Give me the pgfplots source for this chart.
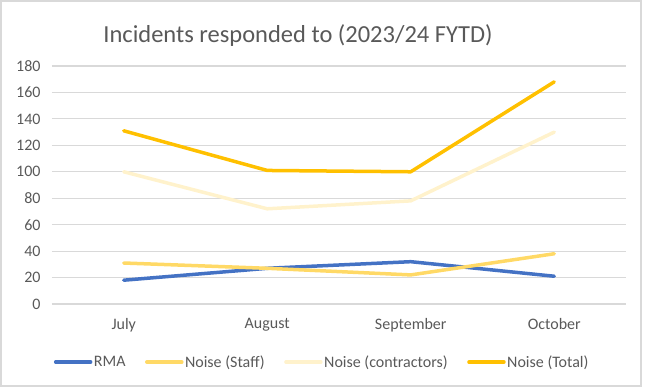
\documentclass[border=0pt]{standalone}
\usepackage{pgfplots}
\pgfplotsset{compat=1.18}
\usepackage{fontspec}
\setmainfont{Carlito}
\definecolor{rma}{HTML}{4472C4}
\definecolor{staff}{HTML}{FFD966}
\definecolor{contr}{HTML}{FFF2CC}
\definecolor{total}{HTML}{FFC000}
\definecolor{txt}{HTML}{595959}
\definecolor{grd}{HTML}{D9D9D9}
\begin{document}
\begin{tikzpicture}
\path (0bp,0bp) rectangle (646bp,388bp);
\draw[color=grd, line width=1.2bp] (1bp,2bp) rectangle (641bp,387bp);
\node[text=txt, font=\fontsize{24.5bp}{28bp}\selectfont, anchor=center] at (298bp,352bp) {Incidents responded to (2023/24 FYTD)};
\begin{axis}[
  at={(52bp,84bp)}, anchor=south west,
  scale only axis, width=574bp, height=238bp,
  xmin=-0.5, xmax=3.5, ymin=0, ymax=180,
  xtick={0,1,2,3}, xticklabels={July,August,September,October},
  ytick={0,20,...,180},
  axis line style={draw=none},
  ymajorgrids, grid style={grd, line width=1.2bp},
  major tick length=0pt,
  tick label style={text=txt, font=\fontsize{16bp}{19bp}\selectfont},
  /pgf/number format/assume math mode=true,
  xticklabel style={yshift=-11bp},
  yticklabel style={xshift=-8bp},
  clip=false,
  legend columns=4,
  legend style={draw=none, fill=none, at={(0.003,-0.244)}, anchor=west,
    font=\fontsize{16bp}{19bp}\selectfont, text=txt, inner sep=0pt,
    /tikz/every even column/.style={column sep=18bp},
    /tikz/every odd column/.style={column sep=0bp},
    nodes={inner sep=1.5bp}},
  legend cell align=left,
  legend image code/.code={\draw[#1, line width=3.5bp, line cap=round] (0bp,0bp) -- (35bp,0bp);},
  every axis plot/.append style={line width=3.5bp, line join=round, line cap=round, mark=none},
]
\addplot[rma] coordinates {(0,18) (1,27) (2,32) (3,21)};
\addlegendentry{RMA}
\addplot[staff] coordinates {(0,31) (1,27) (2,22) (3,38)};
\addlegendentry{Noise (Staff)}
\addplot[contr] coordinates {(0,100) (1,72) (2,78) (3,130)};
\addlegendentry{Noise (contractors)}
\addplot[total] coordinates {(0,131) (1,101) (2,100) (3,168)};
\addlegendentry{Noise (Total)}
\end{axis}
\end{tikzpicture}
\end{document}
